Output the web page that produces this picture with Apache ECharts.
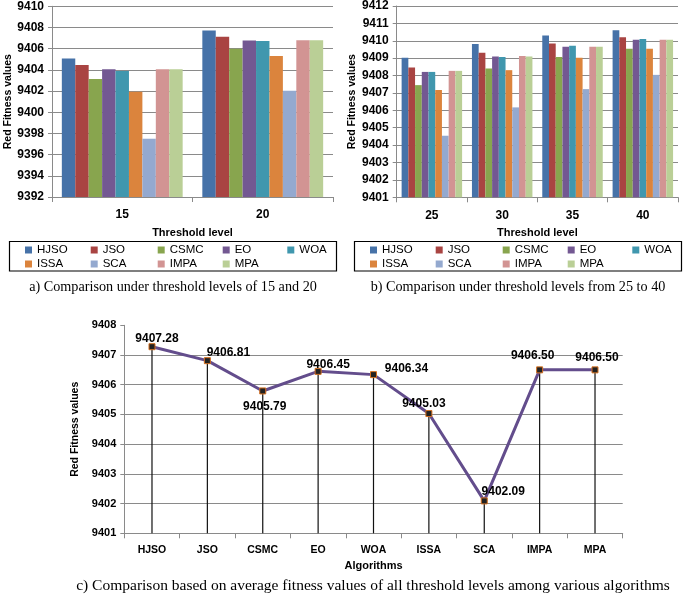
<!DOCTYPE html>
<html><head><meta charset="utf-8">
<script src="https://cdn.jsdelivr.net/npm/echarts@6/dist/echarts.min.js"></script>
<style>html,body{margin:0;padding:0;background:#fff}#c{width:685px;height:597px}</style>
</head><body><div id="c"></div>
<script>
// ---- data ----
const algorithms = ['HJSO','JSO','CSMC','EO','WOA','ISSA','SCA','IMPA','MPA'];
const levelsA = ['15','20'];
const levelsB = ['25','30','35','40'];
const level15 = [9405.07, 9404.47, 9403.13, 9404.07, 9403.90, 9401.94, 9397.50, 9404.07, 9404.07];
const level20 = [9407.72, 9407.13, 9406.00, 9406.78, 9406.72, 9405.30, 9402.03, 9406.80, 9406.80];
const level25 = [9409.03, 9408.46, 9407.45, 9408.21, 9408.21, 9407.17, 9404.54, 9408.27, 9408.27];
const level30 = [9409.81, 9409.31, 9408.40, 9409.09, 9409.07, 9408.31, 9406.17, 9409.13, 9409.09];
const level35 = [9410.31, 9409.85, 9409.07, 9409.66, 9409.71, 9409.03, 9407.22, 9409.66, 9409.66];
const level40 = [9410.61, 9410.21, 9409.54, 9410.06, 9410.10, 9409.54, 9408.04, 9410.06, 9410.06];
const avgFitness = [9407.28, 9406.81, 9405.79, 9406.45, 9406.34, 9405.03, 9402.09, 9406.50, 9406.50];
const ticksA = {min: 9392, max: 9410, interval: 2};
const ticksB = {min: 9401, max: 9412, interval: 1};
const ticksC = {min: 9401, max: 9408, interval: 1};

// ---- styles ----
const colors = ['#4672A8','#A94442','#88A54E','#735892','#4097AE','#DB843D','#94A9CF','#D29493','#BACF96'];
const labelOffsets = [[5,-8],[21,-8],[2,16],[10,-7],[33,-6],[-5,-10],[19,-9],[-7,-14],[2,-12]];
const FONT = 'Liberation Sans';
const GRAY = '#8a8a8a';

function valueAxis(gridIndex, t, showMax, fs, gap){
  return {
    type:'value', gridIndex, min:t.min, max:t.max, interval:t.interval,
    name:'Red Fitness values', nameLocation:'middle', nameGap: gap,
    nameTextStyle:{fontFamily:FONT, fontWeight:'bold', fontSize:10.5, color:'#000'},
    axisLine:{show:true, lineStyle:{color:GRAY}},
    axisTick:{show:true, length:4, lineStyle:{color:GRAY}},
    axisLabel:{fontFamily:FONT, fontWeight:'bold', fontSize:fs, color:'#000', margin:8, formatter:v=>String(v)},
    splitLine:{show:true, showMaxLine:showMax, lineStyle:{color:GRAY, width:1}}
  };
}
function catAxis(gridIndex, data, name, gap, fs, margin){
  return {
    type:'category', gridIndex, data,
    name, nameLocation:'middle', nameGap:gap,
    nameTextStyle:{fontFamily:FONT, fontWeight:'bold', fontSize:11, color:'#000'},
    axisLine:{show:true, lineStyle:{color:GRAY}},
    axisTick:{show:true, length:5, alignWithLabel:false, lineStyle:{color:GRAY}},
    axisLabel:{fontFamily:FONT, fontWeight:'bold', fontSize:fs, color:'#000', margin:margin, interval:0},
    splitLine:{show:false}
  };
}

const series = [];
algorithms.forEach((name,i)=>{
  series.push({name, type:'bar', xAxisIndex:0, yAxisIndex:0, data:[level15[i], level20[i]],
    itemStyle:{color:colors[i]}, barGap:'0%', barCategoryGap:'14%', silent:true});
});
algorithms.forEach((name,i)=>{
  series.push({name, type:'bar', xAxisIndex:1, yAxisIndex:1, data:[level25[i], level30[i], level35[i], level40[i]],
    itemStyle:{color:colors[i]}, barGap:'0%', barCategoryGap:'14%', silent:true});
});
// drop lines
series.push({name:'drop', type:'bar', xAxisIndex:2, yAxisIndex:2, data:avgFitness.slice(),
  barWidth:1.2, itemStyle:{color:'#111'}, silent:true, z:1});
// average line
series.push({name:'Average', type:'line', xAxisIndex:2, yAxisIndex:2, z:5,
  data: avgFitness.map((v,i)=>({value:v, label:{offset:labelOffsets[i]}})),
  symbol:'rect', symbolSize:6,
  lineStyle:{color:'#634D8C', width:3},
  itemStyle:{color:'#222', borderColor:'#D46F1F', borderWidth:1},
  label:{show:true, position:'inside', fontFamily:FONT, fontWeight:'bold', fontSize:12, color:'#000',
    formatter:p=>Number(p.value).toFixed(2)},
  silent:true});

const legends = [];
const colX = [25, 90.7, 157.7, 222.7, 287.3];
[0, 345].forEach(off=>{
  colX.forEach((x,c)=>{
    const d = [algorithms[c]];
    if (algorithms[c+5]) d.push(algorithms[c+5]);
    legends.push({left:x+off, top:244, orient:'vertical', data:d, padding:0,
      itemWidth:7, itemHeight:7, itemGap:2, icon:'rect', selectedMode:false,
      textStyle:{fontFamily:FONT, fontSize:11.5, lineHeight:12, color:'#000'}});
  });
});

const chart = echarts.init(document.getElementById('c'), null, {renderer:'canvas'});
chart.setOption({
  animation:false,
  backgroundColor:'#fff',
  grid:[
    {left:52, right:352, top:6.3, bottom:400},
    {left:396.7, right:7, top:4.7, bottom:399.7},
    {left:124.3, right:62.3, top:325.3, bottom:63.7}
  ],
  xAxis:[
    catAxis(0, levelsA, 'Threshold level', 30, 12, 12),
    catAxis(1, levelsB, 'Threshold level', 30, 12, 12),
    catAxis(2, algorithms, 'Algorithms', 27, 10.5, 11)
  ],
  yAxis:[
    valueAxis(0, ticksA, true, 12, 37),
    valueAxis(1, ticksB, true, 12, 34),
    valueAxis(2, ticksC, false, 11, 36)
  ],
  legend: legends,
  series,
  graphic:[
    {type:'rect', shape:{x:9.5, y:241.5, width:327, height:29.5}, style:{fill:'none', stroke:'#000', lineWidth:1.2}, silent:true},
    {type:'rect', shape:{x:354.5, y:241.5, width:327, height:29.5}, style:{fill:'none', stroke:'#000', lineWidth:1.2}, silent:true},
    {type:'text', x:173, y:287, style:{text:'a) Comparison under threshold levels of 15 and 20', fontFamily:'Liberation Serif', fontSize:14.2, fill:'#000', textAlign:'center', textVerticalAlign:'middle'}},
    {type:'text', x:518, y:287, style:{text:'b) Comparison under threshold levels from 25 to 40', fontFamily:'Liberation Serif', fontSize:14.2, fill:'#000', textAlign:'center', textVerticalAlign:'middle'}},
    {type:'text', x:373, y:586, style:{text:'c) Comparison based on average fitness values of all threshold levels among various algorithms', fontFamily:'Liberation Serif', fontSize:15.5, fill:'#000', textAlign:'center', textVerticalAlign:'middle'}}
  ]
});
</script></body></html>
